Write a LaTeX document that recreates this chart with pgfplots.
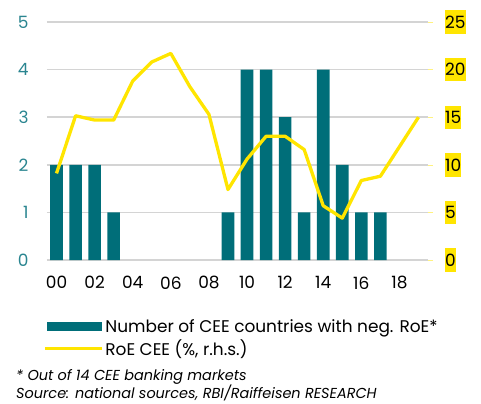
\documentclass[border=0pt]{standalone}
\usepackage{pgfplots}
\pgfplotsset{compat=1.18}
\usepackage{fontspec}
\setmainfont{Poppins}
\definecolor{barc}{HTML}{006E79}
\definecolor{ltc}{HTML}{2A8590}
\definecolor{ylc}{HTML}{FFE500}
\definecolor{gridc}{HTML}{D4D4D4}

\pgfplotstableread{
x n
0 2
1 2
2 2
3 1
9 1
10 4
11 4
12 3
13 1
14 4
15 2
16 1
17 1
}\bars

\pgfplotstableread{
x r
0 9.1
1 15.15
2 14.7
3 14.7
4 18.8
5 20.8
6 21.7
7 18.2
8 15.3
9 7.4
10 10.6
11 13.0
12 13.0
13 11.6
14 5.7
15 4.4
16 8.35
17 8.8
18 11.9
19 15.0
}\roe

\begin{document}
\begin{tikzpicture}[x=1bp,y=1bp]
\useasboundingbox (-47,-143) rectangle (434,260);
\begin{axis}[
  scale only axis, width=381bp, height=238bp,
  xmin=-0.5, xmax=19.5, ymin=0, ymax=5,
  axis line style={draw=none},
  major tick length=0pt,
  xtick={0,2,...,18},
  xticklabels={00,02,04,06,08,10,12,14,16,18},
  ytick={0,1,...,5},
  ymajorgrids=true,
  major grid style={draw=gridc, line width=1.6bp},
  font=\fontsize{17}{20}\selectfont,
  /pgf/number format/assume math mode=true,
  yticklabel style={color=ltc, xshift=-15bp},
  xticklabel style={yshift=-13bp, color=black},
]
\addplot[ybar, bar width=0.66, fill=barc, draw=none, bar shift=0pt] table[x=x,y=n] {\bars};
\end{axis}
\begin{axis}[
  scale only axis, width=381bp, height=238bp,
  xmin=-0.5, xmax=19.5, ymin=0, ymax=25,
  axis x line=none,
  axis y line*=right,
  axis line style={draw=none},
  ytick={0,5,...,25},
  major tick length=5bp,
  tick align=outside,
  tick style={ylc!50, line width=0.6bp},
  font=\fontsize{17}{20}\selectfont,
  /pgf/number format/assume math mode=true,
  yticklabel style={fill=ylc, inner xsep=0pt, inner ysep=5.5bp, xshift=12bp, anchor=west},
  legend style={at={(-7bp,-55bp)}, anchor=north west, draw=none, fill=none,
    font=\fontsize{17}{20}\selectfont, row sep=2bp,
    /tikz/every even column/.append style={column sep=1bp}},
  legend cell align=left,
]
\addlegendimage{legend image code/.code={\fill[barc] (2bp,-4.2bp) rectangle (56bp,4.2bp);}}
\addlegendentry{Number of CEE countries with neg. RoE*}
\addplot[ylc, line width=3.3bp, line join=round, forget plot] table[x=x,y=r] {\roe};
\addlegendimage{legend image code/.code={\draw[ylc, line width=3.2bp] (0bp,0bp) -- (57bp,0bp);}}
\addlegendentry{RoE CEE (\%, r.h.s.)}
\end{axis}
\node[anchor=north west, inner sep=0pt, font=\fontsize{14.5}{18}\selectfont\itshape, align=left] at (-31,-109) {* Out of 14 CEE banking markets\\Source: national sources, RBI/Raiffeisen RESEARCH};
\end{tikzpicture}
\end{document}
